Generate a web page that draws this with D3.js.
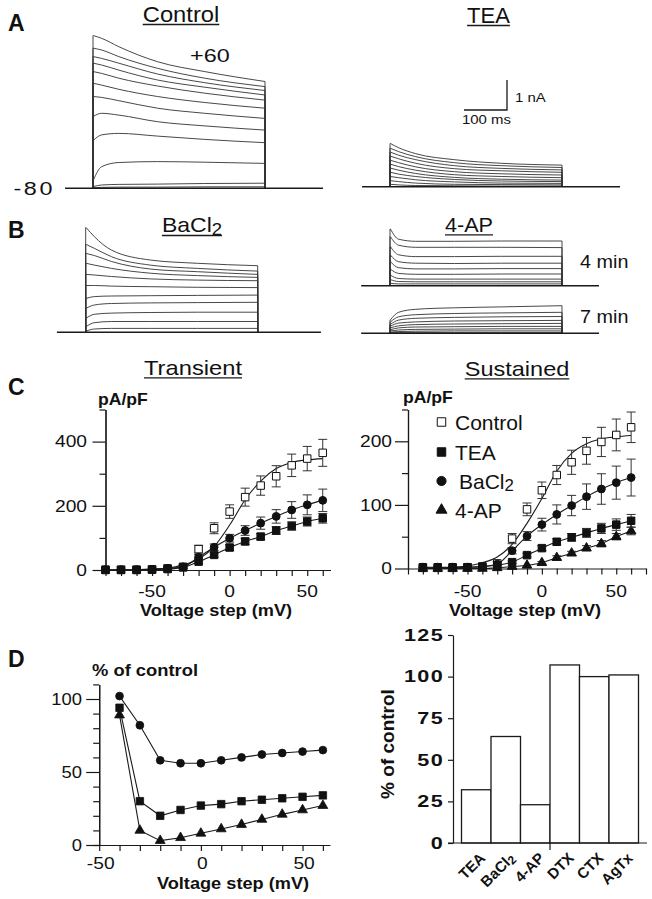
<!DOCTYPE html>
<html><head><meta charset="utf-8">
<script src="https://cdn.jsdelivr.net/npm/d3@7/dist/d3.min.js"></script>
<style>
html,body{margin:0;padding:0;background:#fff;}
svg{display:block;}
text{font-family:"Liberation Sans",Arial,Helvetica,sans-serif;fill:#111;}
</style></head><body>
<svg id="fig" width="652" height="899"></svg>
<script>
// ================= DATA =================
// Current traces: amplitude (nA) sampled at these times (ms after step onset)
const traceTimes = [1, 20, 60, 150, 260, 400];
const controlTraces = [
  [5.09,5.00,4.72,4.22,3.89,3.56],
  [4.67,4.61,4.39,4.00,3.67,3.39],
  [4.39,4.33,4.17,3.81,3.52,3.26],
  [4.17,4.11,3.94,3.61,3.37,3.11],
  [3.89,3.83,3.67,3.41,3.17,2.94],
  [3.50,3.44,3.30,3.06,2.86,2.67],
  [3.06,3.03,2.92,2.67,2.50,2.33],
  [2.40,2.50,2.44,2.22,2.08,1.94],
  [1.60,1.78,1.83,1.74,1.63,1.52],
  [0.28,0.72,0.86,0.89,0.87,0.83],
  [0.06,0.11,0.13,0.14,0.16,0.17],
  [0.02,0.03,0.04,0.04,0.05,0.05]
];
const teaTraces = [
  [1.44,1.30,1.10,0.90,0.78,0.72],
  [1.28,1.17,1.00,0.80,0.70,0.64],
  [1.15,1.05,0.90,0.70,0.61,0.56],
  [1.02,0.93,0.78,0.60,0.53,0.48],
  [0.88,0.80,0.66,0.50,0.43,0.39],
  [0.75,0.67,0.55,0.40,0.34,0.30],
  [0.62,0.55,0.44,0.31,0.25,0.22],
  [0.48,0.42,0.34,0.24,0.19,0.17],
  [0.34,0.30,0.23,0.16,0.12,0.11],
  [0.20,0.17,0.12,0.08,0.07,0.06],
  [0.08,0.06,0.04,0.03,0.02,0.02]
];
const baTraces = [
  [3.49,3.19,2.74,2.41,2.30,2.22],
  [2.93,2.80,2.52,2.24,2.13,2.04],
  [2.63,2.56,2.36,2.11,2.02,1.93],
  [2.30,2.24,2.13,1.97,1.89,1.83],
  [1.93,1.91,1.86,1.78,1.74,1.72],
  [1.56,1.56,1.54,1.52,1.50,1.49],
  [1.13,1.19,1.21,1.22,1.23,1.24],
  [0.80,0.91,0.96,0.98,0.99,1.00],
  [0.47,0.60,0.64,0.66,0.67,0.67],
  [0.19,0.32,0.36,0.36,0.36,0.36],
  [0.04,0.11,0.13,0.13,0.13,0.13]
];
const ap4minTraces = [
  [1.89,1.55,1.48,1.48,1.49,1.49],
  [1.63,1.35,1.28,1.28,1.28,1.27],
  [1.30,1.03,0.97,0.97,0.98,0.98],
  [1.02,0.80,0.75,0.74,0.75,0.75],
  [0.80,0.60,0.56,0.56,0.57,0.57],
  [0.55,0.41,0.38,0.38,0.39,0.39],
  [0.35,0.24,0.22,0.22,0.22,0.22],
  [0.20,0.14,0.13,0.13,0.13,0.13],
  [0.08,0.06,0.06,0.06,0.06,0.06]
];
const ap7minTraces = [
  [0.45,0.70,0.80,0.85,0.88,0.92],
  [0.38,0.55,0.62,0.66,0.68,0.70],
  [0.30,0.44,0.50,0.53,0.55,0.56],
  [0.24,0.34,0.38,0.41,0.42,0.43],
  [0.18,0.25,0.29,0.31,0.32,0.33],
  [0.12,0.18,0.21,0.22,0.23,0.23],
  [0.08,0.11,0.13,0.14,0.15,0.15],
  [0.04,0.06,0.07,0.08,0.08,0.08],
  [0.02,0.03,0.03,0.03,0.03,0.03]
];

// I-V relations (pA/pF)
const voltages = [-80,-70,-60,-50,-40,-30,-20,-10,0,10,20,30,40,50,60];
const transControl    = [1,1,1,2,5,10,65,130,182,227,263,292,326,347,365];
const transControlErr = [0,0,0,0,3,5,12,17,21,28,30,33,35,38,42];
const transControlFit = [0,0,1,3,6,16,34,73,140,219,277,316,335,343,347];
const transBa         = [1,1,1,2,5,10,40,71,99,123,146,167,187,203,217];
const transBaErr      = [0,0,0,0,2,4,8,10,12,15,19,21,26,31,35];
const transTEA        = [0,0,0,1,3,8,26,47,70,89,104,123,137,151,161];
const transTEAErr     = [0,0,0,0,2,3,5,7,9,10,10,12,13,14,15];

const sustControl     = [2,2,2,2,3,8,47,93,123,147,167,185,199,210,222];
const sustControlErr  = [0,0,0,0,1,3,8,10,13,15,19,21,23,25,24];
const sustControlFit  = [0,1,2,4,9,18,38,71,110,153,181,196,204,207,209];
const sustBa          = [2,2,2,2,3,7,28,51,69,85,99,113,125,135,143];
const sustBaErr       = [0,0,0,0,1,2,5,7,10,15,16,20,24,26,29];
const sustTEA         = [1,1,1,2,3,5,10,21,32,42,49,56,63,69,75];
const sustTEAErr      = [0,0,0,0,1,1,2,3,4,5,6,7,8,9,10];
const sustAP          = [0,0,0,0,0,1,3,5,9,17,24,32,39,50,59];
const sustAPErr       = [0,0,0,0,0,0,1,1,2,3,3,4,5,5,6];

// % of control vs voltage
const ratioVoltages = [-40,-30,-20,-10,0,10,20,30,40,50,60];
const ratioBa  = [102,82,58,56,56,58,60,62,63,64,65];
const ratioTEA = [94,30,20,24,27,28,30,31,32,33,34];
const ratioAP  = [89,10,3,5,8,11,14,17.5,21,24,27];

// Toxin / blocker bar chart
const barLabels = ["TEA","BaCl2","4-AP","DTX","CTX","AgTx"];
const barValues = [32,64,23,107,100,101];

// Tick values
const transMajor = [0,200,400], transMinor = [100,300,500];
const sustMajor = [0,100,200], sustMinor = [50,150,250];
const ivXTicksLeft = [-80,-70,-60,-50,-40,-30,-20,-10,0,10,20,30,40,50,60];
const ivXTicksRight = [-90,-80,-70,-60,-50,-40,-30,-20,-10,0,10,20,30,40,50,60,70];
const ivXLabels = [-50,0,50];
const ratioYTicks = [0,10,20,30,40,60,70,80,90,110], ratioYMajor = [0,50,100];
const ratioXTicks = [-50,-40,-30,-20,-10,0,10,20,30,40,50,60];
const barYTicks = [0,25,50,75,100,125];

// ================= HELPERS =================
const svg = d3.select('#fig');
const INK = '#1a1a1a';

function txt(g, x, y, s, o = {}) {
  const size = o.size || 16;
  const t = g.append('text')
    .attr('transform', `translate(${x},${y})${o.rot ? ` rotate(${o.rot})` : ''} scale(${o.sx || 1},1)`)
    .attr('text-anchor', o.anchor || 'start')
    .attr('font-size', size)
    .attr('font-weight', o.bold ? 'bold' : 'normal');
  if (o.ls) t.attr('letter-spacing', o.ls);
  const m = String(s).match(/^(.*Cl)2$/);
  if (m) {
    t.append('tspan').text(m[1]);
    t.append('tspan').attr('font-size', size * 0.8).attr('dy', size * 0.14).text('2');
  } else t.text(s);
  return t;
}
function title(x, y, s, size, sx) {
  const t = txt(svg, x, y, s, {size, sx, anchor: 'middle'});
  const w = t.node().getComputedTextLength() * sx;
  svg.append('line').attr('x1', x - w / 2).attr('x2', x + w / 2)
    .attr('y1', y + 2.8).attr('y2', y + 2.8).attr('stroke', INK).attr('stroke-width', 1.3);
}
function styleAxis(g) {
  g.select('.domain').attr('stroke', INK).attr('stroke-width', 1.2);
  g.selectAll('.tick line').attr('stroke', INK).attr('stroke-width', 1.2);
  g.selectAll('.tick text').remove();
}

// ---------- current traces ----------
const tLen = d3.scaleLinear().domain([0, 400]).range([0, 172]);
const aLen = d3.scaleLinear().domain([0, 1]).range([0, 30]);
function drawTraces(x0, y0, data, lead) {
  const x = d3.scaleLinear().domain([0, 400]).range([x0, x0 + tLen(400)]);
  const y = d3.scaleLinear().domain([0, 1]).range([y0, y0 - aLen(1)]);
  const g = svg.append('g');
  const line = d3.line().x(d => x(d[0])).y(d => y(d[1])).curve(d3.curveMonotoneX);
  data.forEach(tr => {
    const pts = traceTimes.map((t, i) => [t, tr[i]]);
    const d = `M${x(0)},${y(0)}L${x(0)},${y(tr[0])}` + line(pts).replace(/^M/, 'L') + `L${x(400)},${y(0)}`;
    g.append('path').attr('d', d).attr('fill', 'none').attr('stroke', '#333').attr('stroke-width', 0.9);
  });
  g.append('line').attr('x1', x(lead[0])).attr('x2', x(lead[1])).attr('y1', y(0)).attr('y2', y(0))
    .attr('stroke', INK).attr('stroke-width', 1.5);
  return {x, y};
}

// ================= PANEL A =================
txt(svg, 8, 31, 'A', {size: 23, bold: true});
title(181, 21.7, 'Control', 22, 1.08);
title(488.5, 22.7, 'TEA', 22, 1.0);
drawTraces(93, 188.3, controlTraces, [-65, 535]);
txt(svg, 190, 61.5, '+60', {size: 18, sx: 1.3});
txt(svg, 55, 194.5, '-80', {size: 18, sx: 1.3, anchor: 'end', ls: 2});
drawTraces(390, 186.7, teaTraces, [-65, 535]);
// scale bar 100 ms x 1 nA
{
  const sbx = d3.scaleLinear().domain([0, 100]).range([464, 464 + tLen(100)]);
  const sby = d3.scaleLinear().domain([0, 1]).range([110, 110 - aLen(1)]);
  svg.append('path').attr('d', `M${sbx(0)},${sby(0)}L${sbx(100)},${sby(0)}L${sbx(100)},${sby(1)}`)
    .attr('fill', 'none').attr('stroke', INK).attr('stroke-width', 1.3);
  txt(svg, 515, 102, '1 nA', {size: 13, sx: 1.15});
  txt(svg, 462, 124, '100 ms', {size: 13, sx: 1.15});
}

// ================= PANEL B =================
txt(svg, 8, 238, 'B', {size: 23, bold: true});
{
  const t = txt(svg, 192, 232, 'BaCl2', {size: 20, sx: 1.15, anchor: 'middle'});
  const w = t.node().getComputedTextLength() * 1.15;
  svg.append('line').attr('x1', 192 - w / 2).attr('x2', 192 + w / 2).attr('y1', 235.5).attr('y2', 235.5).attr('stroke', INK).attr('stroke-width', 1.3);
}
title(469, 232, '4-AP', 20, 1.08);
drawTraces(85.7, 332.3, baTraces, [-67, 547]);
drawTraces(390, 285.7, ap4minTraces, [-67, 486]);
drawTraces(390, 333.3, ap7minTraces, [-67, 486]);
txt(svg, 580, 268, '4 min', {size: 18, sx: 1.1});
txt(svg, 580, 323, '7 min', {size: 18, sx: 1.1});

// ================= PANEL C =================
txt(svg, 8, 395, 'C', {size: 23, bold: true});
title(193, 375, 'Transient', 21, 1.13);
title(517, 376, 'Sustained', 21, 1.12);

function ivPanel(xs, ys, major, minor, xticks, series, fits, yLabelX) {
  const g = svg.append('g');
  const gx = g.append('g').attr('transform', `translate(0,${ys(0)})`)
    .call(d3.axisBottom(xs).tickValues(xticks).tickSize(6).tickSizeOuter(0));
  styleAxis(gx);
  const gy1 = g.append('g').attr('transform', `translate(${xs.range()[0]},0)`)
    .call(d3.axisLeft(ys).tickValues(minor).tickSize(6).tickSizeOuter(0));
  styleAxis(gy1);
  const gy2 = g.append('g').attr('transform', `translate(${xs.range()[0]},0)`)
    .call(d3.axisLeft(ys).tickValues(major).tickSize(13).tickSizeOuter(0));
  styleAxis(gy2);
  major.forEach(v => txt(g, yLabelX, ys(v) + 5.8, v, {size: 16, sx: 1.2, anchor: 'end'}));
  ivXLabels.forEach(v => txt(g, xs(v), 597, v, {size: 16, sx: 1.2, anchor: 'middle'}));
  txt(g, (xs.range()[0] + xs.range()[1]) / 2 - 2, 616, 'Voltage step (mV)', {size: 17, bold: true, sx: 1.07, anchor: 'middle'});
  const line = d3.line().x((d, i) => xs(voltages[i])).y(d => ys(d)).curve(d3.curveMonotoneX);
  fits.forEach(f => g.append('path').attr('d', line(f)).attr('fill', 'none').attr('stroke', INK).attr('stroke-width', 1.1));
  series.forEach(s => {
    const eg = g.append('g').attr('stroke', '#333').attr('stroke-width', 1);
    voltages.forEach((v, i) => {
      const e = s.err[i];
      if (e < 1.5) return;
      const x = xs(v);
      eg.append('line').attr('x1', x).attr('x2', x).attr('y1', ys(s.val[i] - e)).attr('y2', ys(s.val[i] + e));
      [s.val[i] - e, s.val[i] + e].forEach(yy => eg.append('line').attr('x1', x - 4.5).attr('x2', x + 4.5).attr('y1', ys(yy)).attr('y2', ys(yy)));
    });
    g.append('g').selectAll('path').data(s.val).join('path')
      .attr('transform', (d, i) => `translate(${xs(voltages[i])},${ys(d)})`)
      .attr('d', d3.symbol().type(s.type).size(s.size))
      .attr('fill', s.fill).attr('stroke', '#111').attr('stroke-width', 1);
  });
  return g;
}

const xT = d3.scaleLinear().domain([-80, 65]).range([105.5, 330.5]);
const yT = d3.scaleLinear().domain([0, 500]).range([570, 409.5]);
ivPanel(xT, yT, transMajor, transMinor, ivXTicksLeft, [
  {val: transControl, err: transControlErr, type: d3.symbolSquare, size: 56, fill: '#fff'},
  {val: transBa, err: transBaErr, type: d3.symbolCircle, size: 48, fill: '#111'},
  {val: transTEA, err: transTEAErr, type: d3.symbolSquare, size: 56, fill: '#111'}
], [transControlFit, transBa, transTEA], 87);
txt(svg, 98, 405, 'pA/pF', {size: 16, bold: true, sx: 1.1});

const xS = d3.scaleLinear().domain([-90, 70]).range([408, 646]);
const yS = d3.scaleLinear().domain([0, 250]).range([568.5, 409.5]);
ivPanel(xS, yS, sustMajor, sustMinor, ivXTicksRight, [
  {val: sustControl, err: sustControlErr, type: d3.symbolSquare, size: 56, fill: '#fff'},
  {val: sustAP, err: sustAPErr, type: d3.symbolTriangle, size: 40, fill: '#111'},
  {val: sustBa, err: sustBaErr, type: d3.symbolCircle, size: 48, fill: '#111'},
  {val: sustTEA, err: sustTEAErr, type: d3.symbolSquare, size: 56, fill: '#111'}
], [sustControlFit, sustBa, sustTEA, sustAP], 392);
txt(svg, 403, 403, 'pA/pF', {size: 16, bold: true, sx: 1.1});

// legend
{
  const lg = svg.append('g');
  const items = [
    {name: 'Control', type: d3.symbolSquare, size: 72, fill: '#fff', y: 422},
    {name: 'TEA', type: d3.symbolSquare, size: 72, fill: '#111', y: 452},
    {name: 'BaCl2', type: d3.symbolCircle, size: 66, fill: '#111', y: 481},
    {name: '4-AP', type: d3.symbolTriangle, size: 52, fill: '#111', y: 510}
  ];
  items.forEach(it => {
    lg.append('path').attr('transform', `translate(441.5,${it.y})`).attr('d', d3.symbol().type(it.type).size(it.size))
      .attr('fill', it.fill).attr('stroke', '#111').attr('stroke-width', 1);
    txt(lg, it.name === 'BaCl2' ? 459 : 455, it.y + 7.5, it.name, {size: 21, sx: 1.0});
  });
}

// ================= PANEL D (left) =================
txt(svg, 8, 667, 'D', {size: 23, bold: true});
{
  const xD = d3.scaleLinear().domain([-56, 63.5]).range([87, 330]);
  const yD = d3.scaleLinear().domain([0, 110]).range([845, 684.4]);
  const g = svg.append('g');
  const gx = g.append('g').attr('transform', `translate(0,${yD(0)})`)
    .call(d3.axisBottom(xD).tickValues(ratioXTicks).tickSize(6).tickSizeOuter(0));
  styleAxis(gx);
  const gy1 = g.append('g').attr('transform', `translate(${xD(-50)},0)`)
    .call(d3.axisLeft(yD).tickValues(ratioYTicks).tickSize(6).tickSizeOuter(0));
  styleAxis(gy1);
  const gy2 = g.append('g').attr('transform', `translate(${xD(-50)},0)`)
    .call(d3.axisLeft(yD).tickValues(ratioYMajor).tickSize(13).tickSizeOuter(0));
  styleAxis(gy2);
  ratioYMajor.forEach(v => txt(g, 82, yD(v) + 5.8, v, {size: 16, sx: 1.15, anchor: 'end'}));
  ivXLabels.forEach(v => txt(g, xD(v) + 1.5, 869, v, {size: 16, sx: 1.2, anchor: 'middle'}));
  txt(g, 233, 889, 'Voltage step (mV)', {size: 17, bold: true, sx: 1.07, anchor: 'middle'});
  txt(g, 92, 676, '% of control', {size: 17, bold: true, sx: 1.08});
  const line = d3.line().x((d, i) => xD(ratioVoltages[i])).y(d => yD(d));
  [ratioBa, ratioTEA, ratioAP].forEach(s => g.append('path').attr('d', line(s)).attr('fill', 'none').attr('stroke', INK).attr('stroke-width', 1.1));
  [[ratioBa, d3.symbolCircle, 48], [ratioTEA, d3.symbolSquare, 56], [ratioAP, d3.symbolTriangle, 42]].forEach(([s, type, size]) => {
    g.append('g').selectAll('path').data(s).join('path')
      .attr('transform', (d, i) => `translate(${xD(ratioVoltages[i])},${yD(d)})`)
      .attr('d', d3.symbol().type(type).size(size))
      .attr('fill', '#111').attr('stroke', '#111').attr('stroke-width', 0.8);
  });
}

// ================= PANEL D (right) =================
{
  const yB = d3.scaleLinear().domain([0, 125]).range([843, 635]);
  const xB = d3.scaleBand().domain(barLabels).range([461.5, 638.5]).padding(0);
  const g = svg.append('g');
  g.selectAll('rect').data(barValues).join('rect')
    .attr('x', (d, i) => xB(barLabels[i])).attr('width', xB.bandwidth())
    .attr('y', d => yB(d)).attr('height', d => yB(0) - yB(d))
    .attr('fill', '#fff').attr('stroke', INK).attr('stroke-width', 1.3);
  const gy = g.append('g').attr('transform', 'translate(453,0)')
    .call(d3.axisLeft(yB).tickValues(barYTicks).tickSize(5).tickSizeOuter(0));
  styleAxis(gy);
  barYTicks.forEach(v => txt(g, 444, yB(v) + 5.8, v, {size: 16, bold: true, sx: 1.35, anchor: 'end', ls: 1}));
  g.append('line').attr('x1', 448).attr('x2', 647).attr('y1', yB(0)).attr('y2', yB(0)).attr('stroke', INK).attr('stroke-width', 1.2);
  g.append('line').attr('x1', xB('DTX')).attr('x2', xB('DTX')).attr('y1', yB(0)).attr('y2', yB(0) + 7).attr('stroke', INK).attr('stroke-width', 1.2);
  barLabels.forEach(c => txt(g, xB(c) + xB.bandwidth() / 2 + 10, 859, c, {size: 15, bold: true, anchor: 'end', rot: -45}));
  txt(g, 394, 744, '% of control', {size: 19, bold: true, anchor: 'middle', rot: -90});
}
</script>
</body></html>
